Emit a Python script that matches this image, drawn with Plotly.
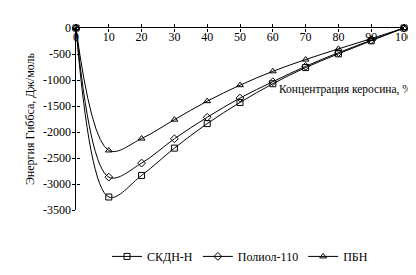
import plotly.graph_objects as go

concentration = [0, 10, 20, 30, 40, 50, 60, 70, 80, 90, 100]
skdn = [0, -3250, -2835, -2310, -1838, -1432, -1072, -761, -497, -245, 0]
poliol = [0, -2868, -2598, -2130, -1717, -1347, -1033, -737, -475, -235, 0]
pbn = [0, -2355, -2126, -1763, -1407, -1100, -833, -607, -402, -205, 0]

series_names = ["СКДН-Н", "Полиол-110", "ПБН"]
y_ticks = [0, -500, -1000, -1500, -2000, -2500, -3000, -3500]
y_tick_text = [str(v) for v in y_ticks]
x_ticks = [0, 10, 20, 30, 40, 50, 60, 70, 80, 90, 100]

FONT = "Liberation Serif"
X_RANGE = [0, 100]
Y_RANGE = [-3500, 0]

fig = go.Figure()
symbols = ["square-open", "diamond-open", "triangle-up-open"]
for name, vals, sym in zip(series_names, [skdn, poliol, pbn], symbols):
    fig.add_trace(go.Scatter(
        x=concentration, y=vals, name=name, mode="lines+markers",
        line=dict(color="black", width=1, shape="spline", smoothing=1),
        marker=dict(symbol=sym, size=6, color="black", line=dict(color="black", width=1)),
        cliponaxis=False,
    ))

# invisible trace so the free overlay axes (carrying the tick labels) get drawn
fig.add_trace(go.Scatter(x=[0], y=[0], xaxis="x2", yaxis="y2", mode="markers",
                         marker=dict(opacity=0), showlegend=False, hoverinfo="skip"))

tf = dict(family=FONT, size=12, color="black")
fig.update_layout(
    width=416, height=275,
    margin=dict(l=68, r=20, t=20, b=62),
    paper_bgcolor="white", plot_bgcolor="white",
    font=tf,
    showlegend=True,
    legend=dict(orientation="h", x=0.5, xanchor="center", y=-0.255, yanchor="middle",
                font=tf, itemwidth=30, bgcolor="rgba(0,0,0,0)", tracegroupgap=0),
    # main axes: lines + outward ticks, no labels
    xaxis=dict(range=X_RANGE, side="top", tickvals=x_ticks, ticks="outside", ticklen=3,
               tickcolor="black", showticklabels=False, showline=True, linecolor="black",
               linewidth=1, showgrid=False, zeroline=False),
    yaxis=dict(range=Y_RANGE, tickvals=y_ticks, ticks="outside", ticklen=3,
               tickcolor="black", showticklabels=False, showline=True, linecolor="black",
               linewidth=1, showgrid=False, zeroline=False),
    # overlay axes: inward ticks (to make crossing ticks) + labels
    xaxis2=dict(range=X_RANGE, overlaying="x", anchor="free", position=1, side="top",
                tickvals=x_ticks, ticks="inside", ticklen=3, tickcolor="black",
                showticklabels=True, ticklabelposition="outside", ticklabelstandoff=-15,
                ticklabeloverflow="allow", tickfont=tf,
                showline=False, showgrid=False, zeroline=False),
    yaxis2=dict(range=Y_RANGE, overlaying="y", anchor="free", position=0, side="left",
                tickvals=y_ticks, ticktext=y_tick_text, ticks="inside", ticklen=3,
                tickcolor="black", showticklabels=True, ticklabelstandoff=5,
                ticklabeloverflow="allow", tickfont=tf,
                showline=False, showgrid=False, zeroline=False),
)

fig.add_annotation(text="Энергия Гиббса, Дж/моль", xref="paper", yref="paper",
                   x=-0.14, y=0.5, xanchor="center", yanchor="middle", textangle=-90,
                   showarrow=False, font=tf)
fig.add_annotation(text="Концентрация керосина, %", xref="paper", yref="paper",
                   x=1.03, y=0.66, xanchor="right", yanchor="middle",
                   showarrow=False, font=dict(family=FONT, size=11.5, color="black"))

fig.write_html("out.html")
